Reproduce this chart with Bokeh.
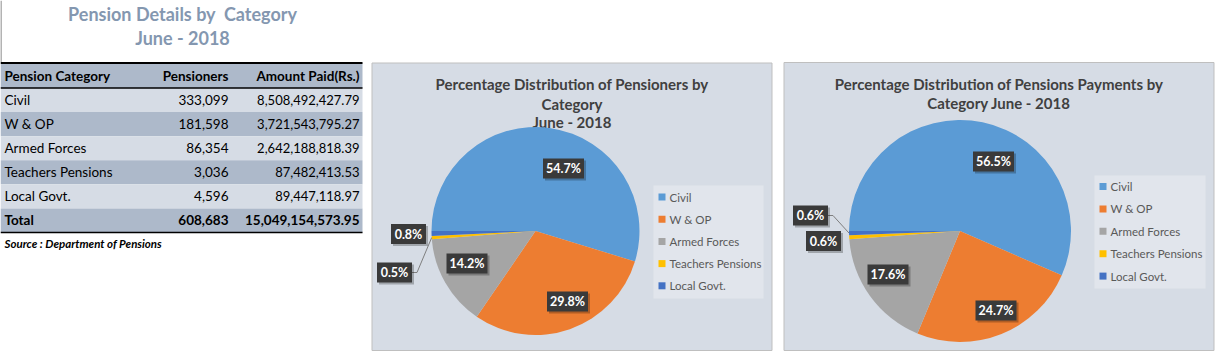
import math
from bokeh.plotting import figure
from bokeh.models import Range1d
from bokeh.core.properties import value
from bokeh.embed import file_html
from bokeh.resources import INLINE

# ---------------- data ----------------
categories = ["Civil", "W & OP", "Armed Forces", "Teachers Pensions", "Local Govt."]
pensioners = [333099, 181598, 86354, 3036, 4596]
amount_paid = [8508492427.79, 3721543795.27, 2642188818.39, 87482413.53, 89447118.97]
table_headers = ["Pension Category", "Pensioners", "Amount Paid(Rs.)"]
total_label = "Total"
page_title = ["Pension Details by\u00a0 Category", "June - 2018"]
source_note = "Source : Department of Pensions"
chart1_title = ["Percentage Distribution of Pensioners by", "Category", "June - 2018"]
chart2_title = ["Percentage Distribution of Pensions Payments by", "Category June - 2018"]

# ---------------- style / layout ----------------
W, H = 1216, 353
FONT = "Lato"
slice_colors = ["#5B9BD5", "#ED7D31", "#A5A5A5", "#FFC000", "#4472C4"]
PANEL_BG = "#D6DCE5"
LEGEND_BG = "#E1E5EC"
DARK_ROW = "#ADB9CA"
LIGHT_ROW = "#D6DCE5"
TITLE_COLOR = "#8497B0"
TEXT_DARK = "#404040"


def Y(v):
    return H - v


p = figure(width=W, height=H, x_range=Range1d(0, W), y_range=Range1d(0, H),
           output_backend="svg", toolbar_location=None,
           x_axis_type=None, y_axis_type=None, min_border=0)
p.grid.visible = False
p.outline_line_color = None
p.background_fill_color = "white"
p.border_fill_color = "white"

# left edge line
p.segment(x0=[0.5], y0=[Y(0)], x1=[0.5], y1=[Y(62)], line_color="#9A9A9A", line_width=1.5)

# ---------------- page title ----------------
p.text(x=[182, 182], y=[Y(13), Y(37)], text=page_title, text_font=value(FONT),
       text_font_style="bold", text_font_size="18px", text_color=TITLE_COLOR,
       text_align="center", text_baseline="middle")

# ---------------- table ----------------
TL, TR = 0, 362
head_top, head_h, row_h = 63, 24.5, 24.08
n = len(categories)
tops = [head_top] + [head_top + head_h + i * row_h for i in range(n + 1)]
bots = [head_top + head_h] + [head_top + head_h + (i + 1) * row_h for i in range(n + 1)]
fills = [DARK_ROW] + [LIGHT_ROW if i % 2 == 0 else DARK_ROW for i in range(n + 1)]
p.quad(left=[TL] * len(tops), right=[TR] * len(tops), top=[Y(t) for t in tops],
       bottom=[Y(b) for b in bots], fill_color=fills, line_color=None)
p.segment(x0=[TL, TL, TL], x1=[TR, TR, TR],
          y0=[Y(62.5), Y(head_top + head_h), Y(bots[-1])],
          y1=[Y(62.5), Y(head_top + head_h), Y(bots[-1])],
          line_color="black", line_width=[2, 1.3, 1.3])

col_x = [4, 228, 359]
col_align = ["left", "right", "right"]
centers = [(t + b) / 2 for t, b in zip(tops, bots)]

# header
for j in range(3):
    p.text(x=[col_x[j]], y=[Y(centers[0])], text=[table_headers[j]], text_font=value(FONT),
           text_font_style="bold", text_font_size="13.5px", text_color="black",
           text_align=col_align[j], text_baseline="middle")
# body
body_y = [Y(c) for c in centers[1:n + 1]]
p.text(x=[col_x[0]] * n, y=body_y, text=categories, text_font=value(FONT),
       text_font_size="13.5px", text_color="black", text_align="left", text_baseline="middle")
p.text(x=[col_x[1]] * n, y=body_y, text=[f"{v:,}" for v in pensioners], text_font=value(FONT),
       text_font_size="13.5px", text_color="black", text_align="right", text_baseline="middle")
p.text(x=[col_x[2]] * n, y=body_y, text=[f"{v:,.2f}" for v in amount_paid], text_font=value(FONT),
       text_font_size="13px", text_color="black", text_align="right", text_baseline="middle")
# total
tot_vals = [total_label, f"{sum(pensioners):,}", f"{sum(amount_paid):,.2f}"]
for j in range(3):
    p.text(x=[col_x[j]], y=[Y(centers[-1])], text=[tot_vals[j]], text_font=value(FONT),
           text_font_style="bold", text_font_size="13.5px", text_color="black",
           text_align=col_align[j], text_baseline="middle")
# source
p.text(x=[4], y=[Y(243)], text=[source_note], text_font=value(FONT),
       text_font_style="bold italic", text_font_size="11.5px", text_color="black",
       text_align="left", text_baseline="middle")


# ---------------- pies ----------------
def pie_panel(values, title_lines, panel, center, radius, title_y, label_offsets,
              leader_idx, legend_box, legend_first_y, legend_step):
    L, T, R, B = panel
    p.quad(left=[L], right=[R], top=[Y(T)], bottom=[Y(B)], fill_color=PANEL_BG,
           line_color="#BFBFBF", line_width=1)
    cx_title = (L + R) / 2
    p.text(x=[cx_title] * len(title_lines), y=[Y(ty) for ty in title_y], text=title_lines,
           text_font=value(FONT), text_font_style="bold", text_font_size="15px",
           text_color=TEXT_DARK, text_align="center", text_baseline="middle")

    total = sum(values)
    fr = [v / total for v in values]
    cum = [0.0]
    for f in fr:
        cum.append(cum[-1] + f)
    starts = [math.pi - 2 * math.pi * cum[i + 1] for i in range(len(fr))]
    ends = [math.pi - 2 * math.pi * cum[i] for i in range(len(fr))]
    cx, cy = center
    p.wedge(x=[cx] * len(fr), y=[Y(cy)] * len(fr), radius=radius, start_angle=starts,
            end_angle=ends, fill_color=slice_colors, line_color=None)

    # leader line
    mid = (starts[leader_idx] + ends[leader_idx]) / 2
    ex, ey = cx + radius * math.cos(mid), Y(cy) + radius * math.sin(mid)
    labels = [f"{100 * f:.1f}%" for f in fr]
    lx = cx + label_offsets[leader_idx][0]
    ly = Y(cy + label_offsets[leader_idx][1])
    bw = 6 * len(labels[leader_idx]) + 11
    p.line(x=[lx + bw / 2, lx + bw / 2 + 5, ex], y=[ly, ly, ey], line_color="#7F7F7F", line_width=1)

    xs = [cx + o[0] for o in label_offsets]
    ys = [Y(cy + o[1]) for o in label_offsets]
    ws = [6 * len(t) + 11 for t in labels]
    p.rect(x=[x + 2 for x in xs], y=[y - 2 for y in ys], width=ws, height=20,
           fill_color="black", fill_alpha=0.25, line_color=None)
    p.rect(x=xs, y=ys, width=ws, height=20, fill_color="#3A3A3A", line_color=None)
    p.text(x=xs, y=ys, text=labels, text_font=value(FONT), text_font_style="bold",
           text_font_size="12.5px", text_color="white", text_align="center",
           text_baseline="middle")

    # legend
    gl, gt, gr, gb = legend_box
    p.quad(left=[gl], right=[gr], top=[Y(gt)], bottom=[Y(gb)], fill_color=LEGEND_BG,
           line_color=None)
    ly_list = [Y(legend_first_y + i * legend_step) for i in range(len(categories))]
    p.rect(x=[gl + 8.5] * len(categories), y=ly_list, width=7, height=7,
           fill_color=slice_colors, line_color=None)
    p.text(x=[gl + 16] * len(categories), y=ly_list, text=categories, text_font=value(FONT),
           text_font_size="11.5px", text_color="#595959", text_align="left",
           text_baseline="middle")


pie_panel(pensioners, chart1_title, (371.5, 62.5, 771.5, 350), (535, 230.5), 104,
          [83.5, 103, 121.5],
          [(28, -62.5), (32, 70.5), (-68.5, 32.5), (-141, 41.5), (-127, 3)],
          3, (653, 185, 763, 298), 196.5, 22.2)

pie_panel(amount_paid, chart2_title, (783.5, 62, 1213.5, 350), (959.5, 230.5), 111,
          [83, 102.5],
          [(33.5, -69.5), (36, 79.5), (-72, 43.5), (-136.5, 10), (-149.5, -15.5)],
          4, (1094, 175, 1205, 288), 186, 22.4)

open("out.html", "w").write(file_html(p, INLINE))
